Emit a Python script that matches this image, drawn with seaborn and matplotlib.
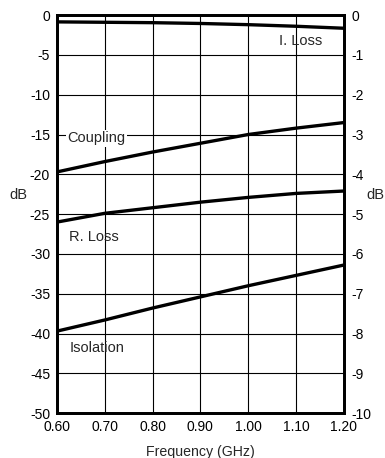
import pandas as pd
import seaborn as sns
import matplotlib.pyplot as plt

# Dados
freq = [0.60, 0.70, 0.80, 0.90, 1.00, 1.10, 1.20]
coupling = [-19.7, -18.4, -17.2, -16.1, -15.0, -14.2, -13.5]
r_loss = [-26.0, -24.9, -24.2, -23.5, -22.9, -22.4, -22.1]
isolation = [-39.7, -38.3, -36.8, -35.4, -34.0, -32.7, -31.4]
i_loss = [-0.17, -0.18, -0.19, -0.21, -0.24, -0.28, -0.33]

x_ticks = [0.60, 0.70, 0.80, 0.90, 1.00, 1.10, 1.20]
x_ticklabels = ["0.60", "0.70", "0.80", "0.90", "1.00", "1.10", "1.20"]
left_ticks = list(range(0, -55, -5))
right_ticks = list(range(0, -11, -1))

sns.set_style("white")
plt.rcParams["font.family"] = ["Liberation Sans", "DejaVu Sans"]
plt.rcParams["font.size"] = 10

df = pd.DataFrame({"freq": freq, "coupling": coupling, "r_loss": r_loss,
                   "isolation": isolation, "i_loss": i_loss})

fig = plt.figure(figsize=(3.85, 4.58), dpi=100)
ax = fig.add_axes([0.148, 0.098, 0.745, 0.869])
ax2 = ax.twinx()

for col in ["coupling", "r_loss", "isolation"]:
    sns.lineplot(data=df, x="freq", y=col, ax=ax, color="black", linewidth=2.4)
sns.lineplot(data=df, x="freq", y="i_loss", ax=ax2, color="black", linewidth=2.4)

ax.set_xlim(0.6, 1.2)
ax.set_ylim(-50, 0)
ax2.set_ylim(-10, 0)
ax.set_xticks(x_ticks)
ax.set_xticklabels(x_ticklabels)
ax.set_yticks(left_ticks)
ax.set_yticklabels([str(v) for v in left_ticks])
ax2.set_yticks(right_ticks)
ax2.set_yticklabels([str(v) for v in right_ticks])

ax.grid(True, color="black", linewidth=0.8)
ax.tick_params(axis="both", length=0, pad=5, labelsize=10, colors="black")
ax2.tick_params(axis="y", length=0, pad=5.5, labelsize=10, colors="black")
for a in (ax, ax2):
    for s in a.spines.values():
        s.set_linewidth(2)
        s.set_color("black")

ax.set_xlabel("Frequency (GHz)", fontsize=10.2, labelpad=8)
ax.set_ylabel("")
ax2.set_ylabel("")

fig.text(18 / 385, 1 - 195 / 458, "dB", ha="center", va="center", fontsize=10.5)
fig.text(375 / 385, 1 - 195 / 458, "dB", ha="center", va="center", fontsize=10.5)

ax.text(0.621, -15.45, "Coupling", ha="left", va="center", fontsize=10.5,
        bbox=dict(facecolor="white", edgecolor="none", pad=1))
ax.text(0.625, -27.9, "R. Loss", ha="left", va="center", fontsize=10.5)
ax.text(0.627, -41.8, "Isolation", ha="left", va="center", fontsize=10.5)
ax.text(1.064, -3.27, "I. Loss", ha="left", va="center", fontsize=10.5)

fig.savefig("out.png", dpi=100)
